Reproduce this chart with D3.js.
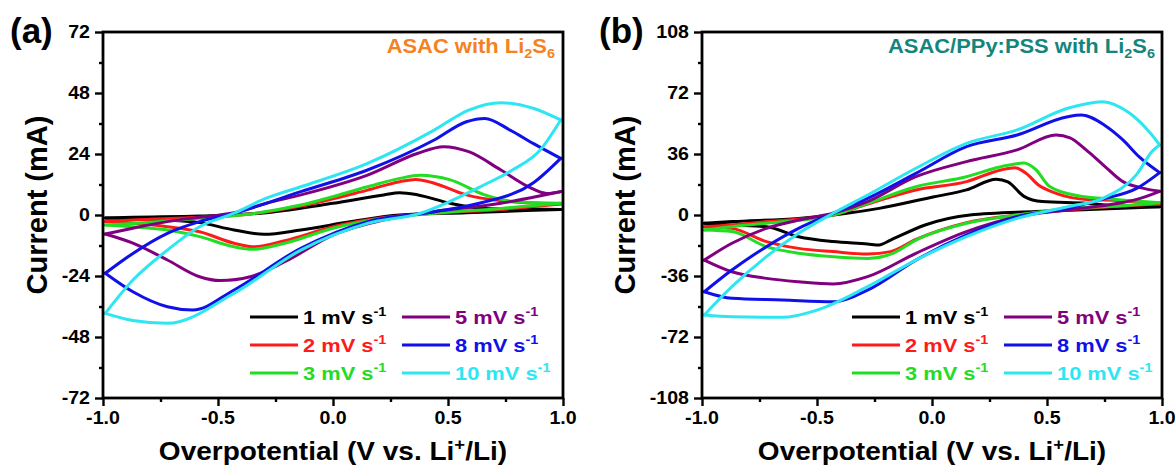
<!DOCTYPE html>
<html><head><meta charset="utf-8">
<script src="https://cdn.jsdelivr.net/npm/d3@7"></script>
<style>html,body{margin:0;padding:0;background:#fff;}svg{display:block;font-family:"Liberation Sans",Arial,sans-serif;}</style>
</head><body>
<svg id="chart" width="1175" height="466"></svg>
<script>
// ---------- DATA ----------
const rates = ["1", "2", "3", "5", "8", "10"];
const rateColors = ["#000000", "#ff1a1a", "#22dd22", "#800080", "#1010e8", "#2ee6f2"];
const xTicks = [-1, -0.5, 0, 0.5, 1];
const xMinor = [-0.75, -0.25, 0.25, 0.75];
const aYTicks = [-72, -48, -24, 0, 24, 48, 72];
const bYTicks = [-108, -72, -36, 0, 36, 72, 108];
const aTitle = "ASAC with Li";
const bTitle = "ASAC/PPy:PSS with Li";

// Panel (a): ASAC with Li2S6 — anodic (upper) and cathodic (lower) branches, [V, mA]
const a1Up = [[-0.99,-1.2],[-0.87,-0.9],[-0.58,-0.4],[-0.29,0.9],[0.0,4.6],[0.22,7.9],[0.29,8.8],[0.37,7.9],[0.51,4.6],[0.66,2.6],[0.99,2.2]];
const a1Down = [[-0.99,-1.2],[-0.72,-2.0],[-0.58,-3.0],[-0.43,-5.9],[-0.30,-7.6],[-0.14,-5.9],[0.08,-2.6],[0.29,0.0],[0.58,0.9],[0.99,2.2]];
const a2Up = [[-0.99,-2.6],[-0.87,-2.0],[-0.58,-0.9],[-0.36,0.4],[-0.14,3.5],[0.15,9.8],[0.29,13.1],[0.36,14.0],[0.44,12.5],[0.58,7.9],[0.73,5.6],[0.99,4.3]];
const a2Down = [[-0.99,-2.6],[-0.72,-4.6],[-0.58,-6.6],[-0.43,-11.1],[-0.35,-12.5],[-0.21,-10.1],[0.0,-4.6],[0.22,-1.0],[0.44,0.7],[0.73,2.2],[0.99,4.3]];
const a3Up = [[-0.99,-3.9],[-0.87,-3.3],[-0.58,-1.3],[-0.36,0.4],[-0.14,3.9],[0.15,11.1],[0.29,14.4],[0.38,15.6],[0.51,13.8],[0.66,7.9],[0.80,5.2],[0.99,4.6]];
const a3Down = [[-0.99,-3.9],[-0.87,-4.6],[-0.72,-5.9],[-0.58,-8.5],[-0.43,-12.5],[-0.35,-13.5],[-0.21,-11.1],[0.0,-5.2],[0.22,-1.3],[0.44,0.7],[0.73,2.6],[0.99,4.6]];
const a5Up = [[-0.99,-7.5],[-0.87,-5.2],[-0.72,-2.6],[-0.58,-0.9],[-0.43,0.9],[-0.29,4.6],[-0.14,7.9],[0.15,15.7],[0.37,24.3],[0.48,26.9],[0.59,24.9],[0.73,17.7],[0.85,11.1],[0.93,8.5],[0.99,9.2]];
const a5Down = [[-0.99,-7.5],[-0.87,-11.1],[-0.72,-17.7],[-0.58,-24.3],[-0.49,-25.8],[-0.36,-24.3],[-0.21,-18.4],[0.0,-7.9],[0.22,-2.0],[0.44,1.3],[0.73,4.6],[0.87,7.0],[0.99,9.2]];
const a8Up = [[-0.99,-22.9],[-0.87,-15.1],[-0.72,-7.2],[-0.58,-2.6],[-0.43,0.7],[-0.14,9.2],[0.15,17.7],[0.44,29.5],[0.58,36.7],[0.66,38.0],[0.77,33.4],[0.87,28.2],[0.99,22.3]];
const a8Down = [[-0.99,-22.9],[-0.87,-30.2],[-0.72,-36.1],[-0.61,-37.4],[-0.43,-29.5],[-0.14,-13.1],[0.15,-2.6],[0.44,1.3],[0.64,4.7],[0.87,12.6],[0.99,22.3]];
const a10Up = [[-0.99,-38.7],[-0.87,-25.6],[-0.72,-13.8],[-0.58,-4.6],[-0.43,0.7],[-0.29,6.6],[-0.14,11.1],[0.15,20.3],[0.44,33.4],[0.59,41.3],[0.73,44.2],[0.87,42.0],[0.99,37.4]];
const a10Down = [[-0.99,-38.7],[-0.87,-41.5],[-0.72,-42.6],[-0.43,-30.8],[-0.14,-13.8],[0.15,-3.3],[0.38,0.7],[0.49,4.6],[0.64,11.1],[0.78,17.7],[0.90,25.5],[0.99,37.4]];

// Panel (b): ASAC/PPy:PSS with Li2S6
const b1Up = [[-0.99,-4.9],[-0.87,-3.9],[-0.58,-2.0],[-0.37,1.0],[-0.23,3.9],[0.01,10.8],[0.15,14.8],[0.28,21.1],[0.33,19.5],[0.40,11.0],[0.48,7.9],[0.67,6.9],[0.81,5.3],[0.99,4.9]];
const b1Down = [[-0.99,-4.9],[-0.87,-5.9],[-0.72,-6.9],[-0.58,-12.8],[-0.43,-15.7],[-0.28,-17.1],[-0.23,-17.7],[-0.18,-14.8],[-0.03,-5.9],[0.165,0.0],[0.45,2.0],[0.74,3.5],[0.99,4.9]];
const b2Up = [[-0.99,-6.9],[-0.87,-5.9],[-0.72,-3.9],[-0.43,0.0],[-0.28,6.5],[-0.07,14.8],[0.15,19.7],[0.30,26.6],[0.36,27.9],[0.41,24.5],[0.46,18.0],[0.54,12.8],[0.67,9.2],[0.81,8.5],[0.99,6.5]];
const b2Down = [[-0.99,-6.9],[-0.87,-7.9],[-0.72,-15.7],[-0.58,-19.7],[-0.43,-21.6],[-0.28,-23.0],[-0.18,-21.6],[-0.07,-14.4],[0.15,-4.5],[0.37,0.0],[0.59,3.0],[0.99,6.5]];
const b3Up = [[-0.99,-8.9],[-0.87,-6.9],[-0.72,-4.9],[-0.43,0.0],[-0.28,6.9],[-0.07,16.7],[0.15,22.6],[0.30,28.5],[0.40,30.7],[0.45,27.0],[0.51,17.0],[0.63,11.5],[0.80,9.2],[0.99,7.3]];
const b3Down = [[-0.99,-8.9],[-0.87,-9.8],[-0.72,-18.7],[-0.58,-22.6],[-0.43,-24.6],[-0.28,-25.6],[-0.17,-22.6],[-0.07,-14.8],[0.15,-4.9],[0.37,0.0],[0.59,3.9],[0.81,5.3],[0.99,7.3]];
const b5Up = [[-0.99,-26.6],[-0.87,-16.7],[-0.72,-7.9],[-0.58,-3.0],[-0.43,1.0],[-0.28,7.9],[-0.07,22.6],[0.15,31.5],[0.37,38.4],[0.54,47.2],[0.60,45.5],[0.67,38.4],[0.745,29.5],[0.83,19.7],[0.91,16.0],[0.99,14.0]];
const b5Down = [[-0.99,-26.6],[-0.87,-33.5],[-0.72,-37.4],[-0.58,-39.4],[-0.43,-40.7],[-0.28,-36.4],[-0.07,-22.6],[0.15,-9.8],[0.37,-1.0],[0.59,3.0],[0.81,6.9],[0.89,9.2],[0.99,14.0]];
const b8Up = [[-0.99,-45.3],[-0.87,-32.5],[-0.72,-18.7],[-0.58,-7.9],[-0.43,1.0],[-0.28,9.8],[-0.07,24.6],[0.15,40.3],[0.37,47.2],[0.59,58.0],[0.65,59.0],[0.75,53.0],[0.83,44.3],[0.90,34.4],[0.99,25.0]];
const b8Down = [[-0.99,-45.3],[-0.87,-49.2],[-0.65,-50.2],[-0.43,-51.2],[-0.28,-44.3],[-0.07,-26.6],[0.15,-11.8],[0.37,-1.0],[0.59,3.9],[0.745,9.5],[0.89,15.7],[0.99,25.0]];
const b10Up = [[-0.99,-59.0],[-0.87,-42.3],[-0.72,-24.6],[-0.58,-10.8],[-0.43,1.0],[-0.28,11.8],[-0.07,27.6],[0.15,42.3],[0.37,50.2],[0.59,63.0],[0.74,66.9],[0.86,60.0],[0.95,48.2],[0.99,41.3]];
const b10Down = [[-0.99,-59.0],[-0.87,-60.0],[-0.65,-60.4],[-0.50,-56.1],[-0.28,-42.3],[-0.07,-26.6],[0.15,-12.8],[0.37,-2.0],[0.59,4.9],[0.745,10.0],[0.89,24.0],[0.96,38.0],[0.99,41.3]];

const aSeries = [[a1Up,a1Down],[a2Up,a2Down],[a3Up,a3Down],[a5Up,a5Down],[a8Up,a8Down],[a10Up,a10Down]];
const bSeries = [[b1Up,b1Down],[b2Up,b2Down],[b3Up,b3Down],[b5Up,b5Down],[b8Up,b8Down],[b10Up,b10Down]];

// ---------- DRAWING ----------
const svg = d3.select("#chart");
const SX = 1.12;

function richText(g, x, y, parts, size, fill, anchor, sx, rot) {
  const tr = rot ? `translate(${x},${y}) rotate(${rot})` : `translate(${x},${y}) scale(${sx},1)`;
  const t = g.append("text").attr("transform", tr)
    .attr("font-size", size).attr("fill", fill).attr("text-anchor", anchor).attr("font-weight", "bold");
  let shift = 0;
  parts.forEach(p => {
    const s = t.append("tspan").text(p.t);
    const target = p.sup ? -0.42 * size : (p.sub ? 0.22 * size : 0);
    if (target - shift !== 0) s.attr("dy", target - shift);
    shift = target;
    if (p.sup || p.sub) s.attr("font-size", size * 0.66);
  });
  return t;
}

function panel(cfg) {
  const g = svg.append("g");
  const x = d3.scaleLinear().domain([-1, 1]).range([cfg.x0, cfg.x1]);
  const y = d3.scaleLinear().domain([cfg.yTicks[0], cfg.yTicks[cfg.yTicks.length - 1]]).range([398, 32]);
  const step = cfg.yTicks[1] - cfg.yTicks[0];
  const yMinor = cfg.yTicks.slice(0, -1).map(v => v + step / 2);

  // curves
  const line = d3.line().x(d => x(d[0])).y(d => y(d[1])).curve(d3.curveMonotoneX);
  cfg.series.forEach((s, i) => {
    s.forEach(branch => {
      g.append("path").attr("d", line(branch)).attr("fill", "none")
        .attr("stroke", rateColors[i]).attr("stroke-width", 3)
        .attr("stroke-linejoin", "round").attr("stroke-linecap", "round");
    });
  });

  // axes ticks
  const axL = d3.axisLeft(y).tickValues(cfg.yTicks).tickSize(8).tickSizeOuter(0).tickFormat("");
  const axLm = d3.axisLeft(y).tickValues(yMinor).tickSize(4).tickSizeOuter(0).tickFormat("");
  const axB = d3.axisBottom(x).tickValues(xTicks).tickSize(8).tickSizeOuter(0).tickFormat("");
  const axBm = d3.axisBottom(x).tickValues(xMinor).tickSize(4).tickSizeOuter(0).tickFormat("");
  [[axL, `translate(${cfg.x0},0)`], [axLm, `translate(${cfg.x0},0)`], [axB, `translate(0,398)`], [axBm, `translate(0,398)`]].forEach(([ax, tr]) => {
    const a = g.append("g").attr("transform", tr).call(ax);
    a.select(".domain").remove();
    a.selectAll("line").attr("stroke", "#000").attr("stroke-width", 2.4);
  });
  // frame
  g.append("rect").attr("x", cfg.x0).attr("y", 32).attr("width", cfg.x1 - cfg.x0).attr("height", 366)
    .attr("fill", "none").attr("stroke", "#000").attr("stroke-width", 2.8);

  // tick labels
  cfg.yTicks.forEach(v => richText(g, cfg.x0 - 13, y(v) + 6.3, [{t: String(v)}], 17.5, "#000", "end", SX));
  xTicks.forEach(v => richText(g, x(v), 424, [{t: v.toFixed(1)}], 17.5, "#000", "middle", SX));

  // axis titles
  richText(g, (cfg.x0 + cfg.x1) / 2, 460, [{t: "Overpotential (V vs. Li"}, {t: "+", sup: true}, {t: "/Li)"}], 25, "#000", "middle", SX);
  richText(g, cfg.yTitleX, 205, [{t: "Current (mA)"}], 29, "#000", "middle", 1, -90);

  // panel letter
  richText(g, cfg.letterX, 43, [{t: cfg.letter}], 35, "#000", "start", 1);

  // title
  richText(g, cfg.titleX, 53, [{t: cfg.title}, {t: "2", sub: true}, {t: "S"}, {t: "6", sub: true}], 20.5, cfg.titleColor, "end", 1.07);

  // legend
  rates.forEach((r, i) => {
    const col = i < 3 ? 0 : 1, row = i % 3;
    const ly = 317 + row * 28;
    const lx0 = cfg.legX[col], lx1 = lx0 + 48;
    g.append("line").attr("x1", lx0).attr("x2", lx1).attr("y1", ly).attr("y2", ly)
      .attr("stroke", rateColors[i]).attr("stroke-width", 3);
    richText(g, lx1 + 5, ly + 7, [{t: r + " mV s"}, {t: "-1", sup: true}], 19, rateColors[i], "start", 1.15);
  });
}

panel({x0: 103, x1: 563, yTicks: aYTicks, series: aSeries, yTitleX: 47, letter: "(a)", letterX: 10,
  title: aTitle, titleX: 555, titleColor: "#f5821f", legX: [250, 402]});
panel({x0: 702, x1: 1162, yTicks: bYTicks, series: bSeries, yTitleX: 635, letter: "(b)", letterX: 599,
  title: bTitle, titleX: 1155, titleColor: "#14857d", legX: [852, 1004]});
</script>
</body></html>
